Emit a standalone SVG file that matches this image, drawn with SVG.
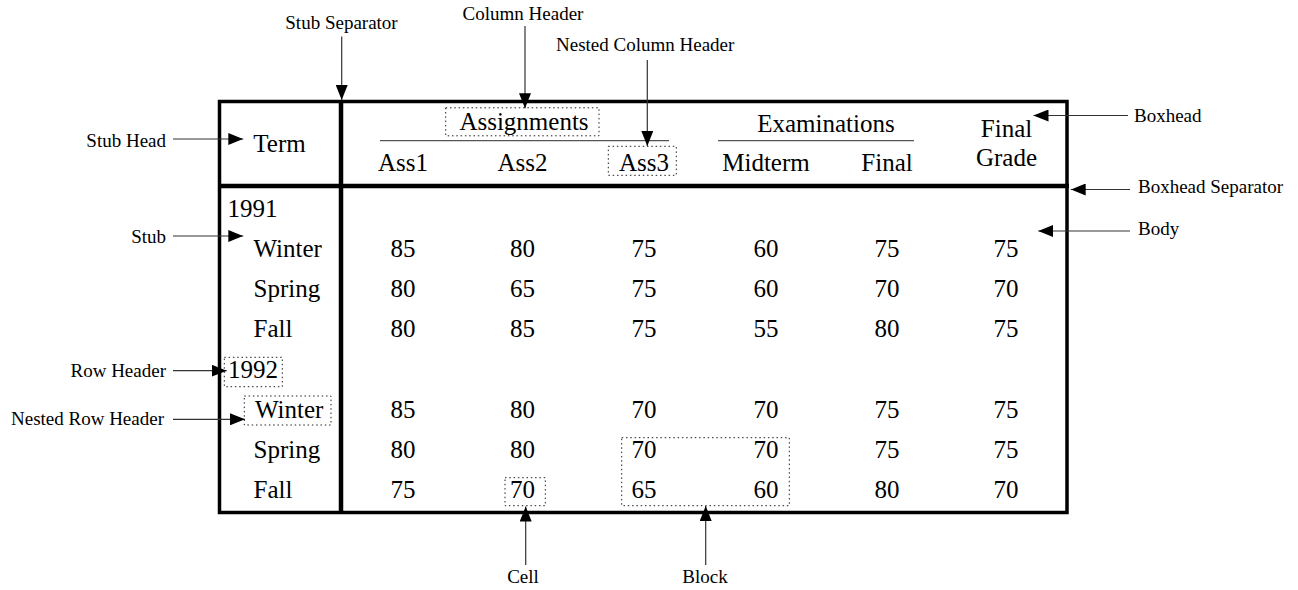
<svg xmlns="http://www.w3.org/2000/svg" width="1298" height="590" viewBox="0 0 1298 590">
<style>
.t{font-family:'Liberation Serif','Times New Roman','DejaVu Serif',serif;font-size:25px;fill:#000}
.m{text-anchor:middle}
.a{font-family:'Liberation Serif','Times New Roman','DejaVu Serif',serif;font-size:19px;fill:#000}
.r{text-anchor:end}
.dot{fill:none;stroke:#222;stroke-width:1;stroke-dasharray:1.5 2.8}
.rule{stroke:#555;stroke-width:1.2}
.conn{stroke:#333;stroke-width:1.2;fill:none;marker-end:url(#ah)}
</style>
<defs>
<marker id="ah" markerUnits="userSpaceOnUse" markerWidth="15" markerHeight="12" refX="15" refY="6" orient="auto">
<path d="M0,0 L15,6 L0,12 z" fill="#000"/>
</marker>
</defs>
<rect width="1298" height="590" fill="#fff"/>

<g id="table">
<rect x="219.5" y="101.5" width="847.5" height="411" fill="none" stroke="#000" stroke-width="3.5"/>
<line x1="341" y1="100" x2="341" y2="514" stroke="#000" stroke-width="4.5"/>
<line x1="218" y1="186" x2="1069" y2="186" stroke="#000" stroke-width="4.5"/>
</g>

<g id="boxhead" font-family="Liberation Serif, serif">
<text class="t m" x="279.5" y="152">Term</text>
<text class="t m" x="524" y="130">Assignments</text>
<line class="rule" x1="380" y1="140.7" x2="669" y2="140.7"/>
<text class="t m" x="403" y="171">Ass1</text>
<text class="t m" x="522.5" y="171">Ass2</text>
<text class="t m" x="644" y="171">Ass3</text>
<text class="t m" x="826" y="132">Examinations</text>
<line class="rule" x1="718" y1="140.7" x2="914" y2="140.7"/>
<text class="t m" x="766" y="171">Midterm</text>
<text class="t m" x="887" y="171">Final</text>
<text class="t m" x="1006.5" y="137">Final</text>
<text class="t m" x="1006.5" y="166">Grade</text>
</g>

<g id="stub">
<text class="t" x="227.5" y="217">1991</text>
<text class="t" x="253.5" y="257">Winter</text>
<text class="t" x="253.5" y="297">Spring</text>
<text class="t" x="253.5" y="337">Fall</text>
<text class="t" x="228" y="378">1992</text>
<text class="t" x="255" y="418">Winter</text>
<text class="t" x="253.5" y="458">Spring</text>
<text class="t" x="253.5" y="498">Fall</text>
</g>

<g id="body">
<g class="t m">
<text x="403" y="257">85</text><text x="522.5" y="257">80</text><text x="644" y="257">75</text><text x="766" y="257">60</text><text x="887" y="257">75</text><text x="1006" y="257">75</text>
<text x="403" y="297">80</text><text x="522.5" y="297">65</text><text x="644" y="297">75</text><text x="766" y="297">60</text><text x="887" y="297">70</text><text x="1006" y="297">70</text>
<text x="403" y="337">80</text><text x="522.5" y="337">85</text><text x="644" y="337">75</text><text x="766" y="337">55</text><text x="887" y="337">80</text><text x="1006" y="337">75</text>
<text x="403" y="418">85</text><text x="522.5" y="418">80</text><text x="644" y="418">70</text><text x="766" y="418">70</text><text x="887" y="418">75</text><text x="1006" y="418">75</text>
<text x="403" y="458">80</text><text x="522.5" y="458">80</text><text x="644" y="458">70</text><text x="766" y="458">70</text><text x="887" y="458">75</text><text x="1006" y="458">75</text>
<text x="403" y="498">75</text><text x="522.5" y="498">70</text><text x="644" y="498">65</text><text x="766" y="498">60</text><text x="887" y="498">80</text><text x="1006" y="498">70</text>
</g>
</g>

<g id="highlights">
<rect class="dot" x="445.7" y="107.8" width="153.3" height="28"/>
<rect class="dot" x="608.3" y="146.3" width="68" height="29"/>
<rect class="dot" x="224.3" y="357.3" width="58" height="29.4"/>
<rect class="dot" x="244.3" y="396" width="86.7" height="29"/>
<rect class="dot" x="505" y="477.7" width="40.3" height="28"/>
<rect class="dot" x="621.7" y="437.7" width="167.6" height="68"/>
</g>

<g id="label-stub-separator"><text class="a m" x="341.5" y="29">Stub Separator</text></g>
<g id="label-column-header"><text class="a m" x="523" y="20">Column Header</text></g>
<g id="label-nested-column-header"><text class="a" x="556" y="51">Nested Column Header</text></g>
<g id="label-boxhead"><text class="a" x="1134" y="122">Boxhead</text></g>
<g id="label-boxhead-separator"><text class="a" x="1138" y="193">Boxhead Separator</text></g>
<g id="label-body"><text class="a" x="1138" y="235">Body</text></g>
<g id="label-stub-head"><text class="a r" x="166" y="146.5">Stub Head</text></g>
<g id="label-stub"><text class="a r" x="166" y="243">Stub</text></g>
<g id="label-row-header"><text class="a r" x="166" y="376.5">Row Header</text></g>
<g id="label-nested-row-header"><text class="a r" x="164" y="425">Nested Row Header</text></g>
<g id="label-cell"><text class="a m" x="523" y="583">Cell</text></g>
<g id="label-block"><text class="a m" x="705" y="583">Block</text></g>

<g id="connectors">
<line class="conn" x1="341.7" y1="36.5" x2="341.7" y2="100"/>
<line class="conn" x1="525" y1="26" x2="525" y2="108.3"/>
<line class="conn" x1="647.3" y1="60" x2="647.3" y2="146"/>
<line class="conn" x1="1128" y1="115.5" x2="1033.5" y2="115.5"/>
<line class="conn" x1="1130" y1="189.5" x2="1070.7" y2="189.5"/>
<line class="conn" x1="1130" y1="231" x2="1038.3" y2="231"/>
<line class="conn" x1="173" y1="139" x2="243.3" y2="139"/>
<line class="conn" x1="173" y1="236" x2="243.3" y2="236"/>
<line class="conn" x1="173" y1="370.7" x2="226.7" y2="370.7"/>
<line class="conn" x1="173" y1="419.3" x2="245" y2="419.3"/>
<line class="conn" x1="525.7" y1="565" x2="525.7" y2="506.5"/>
<line class="conn" x1="705.7" y1="565" x2="705.7" y2="506"/>
</g>
</svg>
